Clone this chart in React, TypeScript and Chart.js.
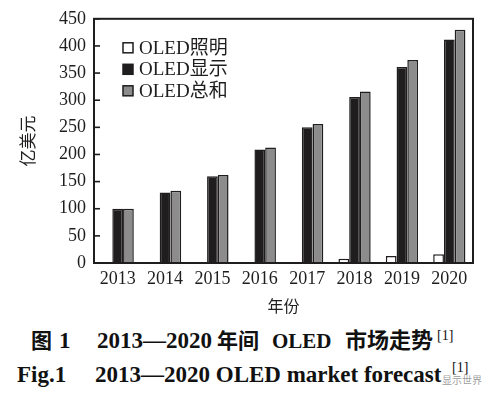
import React, { useEffect, useRef } from "react";
import { Chart, registerables } from "chart.js";

Chart.register(...registerables);

const years = ["2013", "2014", "2015", "2016", "2017", "2018", "2019", "2020"];
const lighting = [0, 0, 0, 0, 0, 8, 13, 16];
const display = [100, 130, 160, 209, 250, 306, 361, 412];
const total = [100, 133, 162, 213, 256, 316, 374, 430];
const seriesNames = ["OLED照明", "OLED显示", "OLED总和"];
const yTicks = { min: 0, max: 450, step: 50 };

const SERIF = '"Liberation Serif", "Noto Sans CJK SC", serif';
const INK = "#1f1d1d";

const framePlugin = {
  id: "frame",
  afterDraw(chart: any) {
    const { ctx, chartArea } = chart;
    const { left, top, right, bottom } = chartArea;
    ctx.save();
    ctx.strokeStyle = INK;
    ctx.lineWidth = 2;
    ctx.strokeRect(left, top, right - left, bottom - top);
    // inner ticks on y axis
    const ys = chart.scales.y;
    ctx.lineWidth = 1.6;
    ys.ticks.forEach((_t: any, i: number) => {
      const py = ys.getPixelForTick(i);
      ctx.beginPath();
      ctx.moveTo(left, py);
      ctx.lineTo(left + 6, py);
      ctx.stroke();
    });
    // legend
    const lx = left + 29;
    const ly = top + 29;
    chart.data.datasets.forEach((ds: any, i: number) => {
      const cy = ly + i * 21.5;
      ctx.fillStyle = ds.backgroundColor;
      ctx.fillRect(lx, cy - 5, 10, 10);
      ctx.strokeStyle = INK;
      ctx.lineWidth = 1.5;
      ctx.strokeRect(lx, cy - 5, 10, 10);
      ctx.fillStyle = INK;
      ctx.font = "19px " + SERIF;
      ctx.textBaseline = "middle";
      ctx.textAlign = "left";
      ctx.fillText(ds.label, lx + 16, cy + 1);
    });
    ctx.restore();
  },
};

function BarChart() {
  const ref = useRef<HTMLCanvasElement | null>(null);
  useEffect(() => {
    if (!ref.current) return;
    const chart = new Chart(ref.current, {
      type: "bar",
      data: {
        labels: years,
        datasets: [
          {
            label: seriesNames[0],
            data: lighting,
            backgroundColor: "#ffffff",
            borderColor: INK,
            borderWidth: 1.5,
          },
          {
            label: seriesNames[1],
            data: display,
            backgroundColor: INK,
            borderColor: INK,
            borderWidth: 1.5,
          },
          {
            label: seriesNames[2],
            data: total,
            backgroundColor: "#8c8c8c",
            borderColor: INK,
            borderWidth: 1.5,
          },
        ],
      },
      options: {
        responsive: false,
        animation: false,
        layout: { padding: { left: 0, right: 24, top: 15, bottom: 0 } },
        datasets: {
          bar: { categoryPercentage: 0.68, barPercentage: 1 },
        },
        plugins: {
          legend: { display: false },
          tooltip: { enabled: false },
        },
        scales: {
          x: {
            grid: { display: false, drawTicks: false },
            border: { display: false },
            ticks: {
              color: INK,
              padding: 5,
              maxRotation: 0,
              font: { family: SERIF, size: 18 },
            },
            title: {
              display: true,
              text: "年份",
              color: INK,
              font: { family: SERIF, size: 16 },
              padding: { top: 0, bottom: 3 },
            },
            afterFit(scale: any) {
              scale.height = 320 - 263;
            },
          },
          y: {
            min: yTicks.min,
            max: yTicks.max,
            grid: { display: false, drawTicks: false },
            border: { display: false },
            ticks: {
              stepSize: yTicks.step,
              color: INK,
              padding: 8,
              font: { family: SERIF, size: 18 },
            },
            title: {
              display: true,
              text: "亿美元",
              color: INK,
              font: { family: SERIF, size: 17 },
              padding: { top: 19, bottom: 0 },
            },
            afterFit(scale: any) {
              scale.width = 94;
            },
          },
        },
      },
      plugins: [framePlugin],
    });
    return () => chart.destroy();
  }, []);
  return <canvas ref={ref} width={497} height={320} style={{ width: 497, height: 320, display: "block" }} />;
}

export default function App() {
  const seg = (left: number, top: number): React.CSSProperties => ({
    position: "absolute",
    left,
    top,
    fontFamily: SERIF,
    fontWeight: "bold",
    fontSize: 23,
    color: "#111",
    whiteSpace: "pre",
    lineHeight: "26px",
  });
  const sup = (left: number, top: number): React.CSSProperties => ({
    position: "absolute",
    left,
    top,
    fontFamily: SERIF,
    fontSize: 14,
    color: "#111",
    whiteSpace: "pre",
    lineHeight: "16px",
  });
  const t1 = 328;
  const t2 = 362;
  return (
    <div style={{ position: "absolute", left: 0, top: 0, width: 497, height: 406, background: "#fff", overflow: "hidden" }}>
      <BarChart />
      <div style={{ ...seg(31, t1), fontSize: 21 }}>图</div>
      <div style={seg(59, t1)}>1</div>
      <div style={seg(97, t1)}>2013—2020</div>
      <div style={{ ...seg(217, t1), fontSize: 21 }}>年间</div>
      <div style={{ ...seg(272, t1), fontSize: 21 }}>OLED</div>
      <div style={{ ...seg(345, t1), fontSize: 22 }}>市场走势</div>
      <div style={sup(437, 328)}>[1]</div>
      <div style={seg(17, t2)}>Fig.1</div>
      <div style={seg(95, t2)}>2013—2020 OLED market forecast</div>
      <div style={sup(452, 360)}>[1]</div>
      <div
        style={{
          position: "absolute",
          left: 442,
          top: 373,
          fontFamily: '"Noto Sans CJK SC", sans-serif',
          fontSize: 10,
          lineHeight: "14px",
          color: "rgba(130,130,130,0.8)",
        }}
      >
        显示世界
      </div>
    </div>
  );
}
